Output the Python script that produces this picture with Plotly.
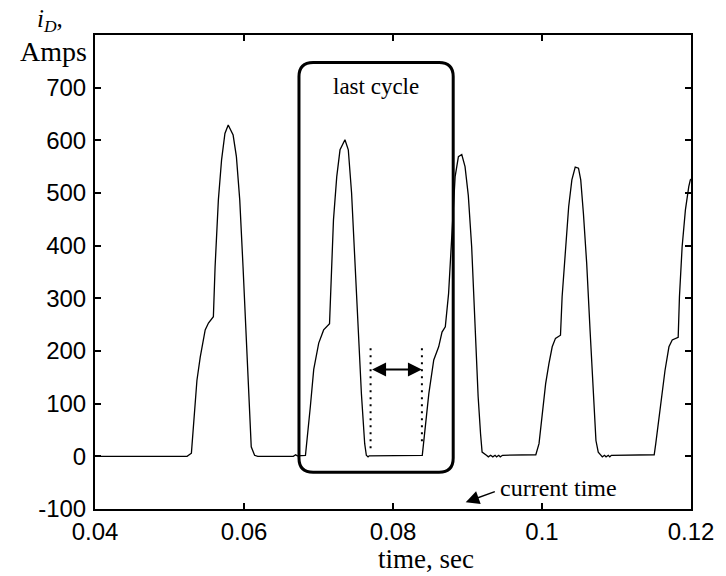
import plotly.graph_objects as go

# Diode current waveform, i_D (A) versus time (s)
time_s = [
    0.04, 0.05236, 0.05294, 0.05368, 0.05413, 0.05479, 0.05523, 0.05589,
    0.05612, 0.05656, 0.05699, 0.05744, 0.05788, 0.05854, 0.05898, 0.05943,
    0.05987, 0.0603, 0.06075, 0.06097, 0.06142, 0.06185, 0.06662, 0.06693,
    0.06715, 0.06795,
    0.06825, 0.06891, 0.06936, 0.07003, 0.07069, 0.07148, 0.07162, 0.07201,
    0.07245, 0.07289, 0.07355, 0.074, 0.07444, 0.07487, 0.07532, 0.07576,
    0.0762, 0.07642, 0.07665, 0.0768, 0.08393,
    0.08437, 0.08481, 0.08547, 0.08613, 0.08658, 0.08702, 0.08746, 0.08791,
    0.08834, 0.08878, 0.08923, 0.08967, 0.09011, 0.09056, 0.09099, 0.09143,
    0.09175, 0.09196, 0.09254, 0.0928, 0.0931, 0.0934, 0.0937, 0.0939,
    0.0942, 0.0944, 0.0947, 0.09917,
    0.0996, 0.10004, 0.10049, 0.10093, 0.10137, 0.10181, 0.10248, 0.1027,
    0.10314, 0.10358, 0.10401, 0.10446, 0.1049, 0.1052, 0.10556, 0.106,
    0.10645, 0.10689, 0.10724, 0.10755, 0.10799, 0.1081, 0.1084, 0.1086,
    0.1089, 0.1091, 0.1093, 0.11506,
    0.11527, 0.11572, 0.11607, 0.11651, 0.11704, 0.11748, 0.11828, 0.11845,
    0.11881, 0.11925, 0.1197, 0.11991, 0.12023, 0.1204,
]
current_a = [
    0, 0, 6, 144, 189, 240, 253, 265,
    360, 487, 563, 613, 629, 610, 569, 487,
    360, 233, 106, 18, 2, 0, 0, 3,
    1, 1,
    2, 95, 165, 215, 240, 252, 300, 449,
    531, 582, 601, 582, 500, 373, 246, 119,
    24, 2, -1, 1, 2,
    56, 119, 183, 208, 236, 246, 309, 436,
    531, 569, 573, 550, 495, 398, 240, 113,
    43, 8, 2, -1, 2, -1, 2, -1,
    2, -1, 2, 3,
    24, 87, 138, 176, 208, 224, 230, 303,
    398, 474, 525, 549, 547, 525, 461, 366,
    240, 113, 30, 8, 2, -1, 2, -1,
    2, -1, 2, 3,
    24, 75, 113, 163, 208, 221, 226, 303,
    398, 468, 512, 525, 528, 520,
]

x_tick_vals = [0.04, 0.06, 0.08, 0.1, 0.12]
x_tick_text = ["0.04", "0.06", "0.08", "0.1", "0.12"]
y_tick_vals = [-100, 0, 100, 200, 300, 400, 500, 600, 700]
y_tick_text = ["-100", "0", "100", "200", "300", "400", "500", "600", "700"]

SERIF = "Liberation Serif, Times New Roman, serif"
SANS = "Liberation Sans, Arial, sans-serif"

fig = go.Figure()
fig.add_trace(go.Scatter(
    x=time_s, y=current_a, mode="lines",
    line=dict(color="black", width=1.3),
    hoverinfo="skip", showlegend=False,
))


def rounded_rect(x0, x1, y0, y1, rx, ry):
    return (
        f"M {x0 + rx},{y0} L {x1 - rx},{y0} Q {x1},{y0} {x1},{y0 + ry} "
        f"L {x1},{y1 - ry} Q {x1},{y1} {x1 - rx},{y1} "
        f"L {x0 + rx},{y1} Q {x0},{y1} {x0},{y1 - ry} "
        f"L {x0},{y0 + ry} Q {x0},{y0} {x0 + rx},{y0} Z"
    )


shapes = [
    # box around the last cycle
    dict(type="path", xref="x", yref="y",
         path=rounded_rect(0.06738, 0.08808, -30, 748, 0.0019, 27),
         line=dict(color="black", width=3)),
    # dotted markers for the off interval
    dict(type="line", xref="x", yref="y", x0=0.07699, x1=0.07699, y0=205, y1=6,
         line=dict(color="black", width=2, dash="2px,5px")),
    dict(type="line", xref="x", yref="y", x0=0.08388, x1=0.08388, y0=205, y1=28,
         line=dict(color="black", width=2, dash="2px,5px")),
]

annotations = [
    dict(text="last cycle", x=0.07775, y=703, xref="x", yref="y",
         showarrow=False, font=dict(family=SERIF, size=23, color="black")),
    # double-headed arrow spanning the off interval
    dict(text="", x=0.08388, y=165, ax=0.07699, ay=165, xref="x", yref="y",
         axref="x", ayref="y", showarrow=True, arrowside="end+start",
         arrowhead=2, startarrowhead=2, arrowsize=1.4, startarrowsize=1.4,
         arrowwidth=2, arrowcolor="black"),
    # current time pointer
    dict(text="", x=0.08976, y=-87, ax=0.09387, ay=-66, xref="x", yref="y",
         axref="x", ayref="y", showarrow=True, arrowhead=2, arrowsize=1.8,
         arrowwidth=1.5, arrowcolor="black"),
    dict(text="current time", x=0.09405, y=-61, xref="x", yref="y",
         xanchor="left", yanchor="middle", showarrow=False,
         font=dict(family=SERIF, size=24, color="black")),
    # axis labels
    dict(text="<i>i</i><sub><i>D</i></sub>,", x=-0.076, y=1.03,
         xref="paper", yref="paper", xanchor="center", yanchor="middle",
         showarrow=False, font=dict(family=SERIF, size=25, color="black")),
    dict(text="Amps", x=-0.01, y=0.966, xref="paper", yref="paper",
         xanchor="right", yanchor="middle", showarrow=False,
         font=dict(family=SERIF, size=28, color="black")),
    dict(text="time, sec", x=0.555, y=-0.105, xref="paper", yref="paper",
         xanchor="center", yanchor="middle", showarrow=False,
         font=dict(family=SERIF, size=27, color="black")),
]

axis_common = dict(
    showline=True, linecolor="black", linewidth=2, mirror="ticks",
    ticks="inside", ticklen=6, tickwidth=1.5, tickcolor="black",
    showgrid=False, zeroline=False,
    tickfont=dict(family=SANS, size=24, color="black"),
)

fig.update_layout(
    width=726, height=576,
    margin=dict(l=95, r=27, t=35, b=67),
    paper_bgcolor="white", plot_bgcolor="white",
    shapes=shapes, annotations=annotations,
    xaxis=dict(range=[0.04, 0.12], tickvals=x_tick_vals, ticktext=x_tick_text,
               ticklabelstandoff=0, **axis_common),
    yaxis=dict(range=[-100, 800], tickvals=y_tick_vals, ticktext=y_tick_text,
               ticklabelstandoff=2, **axis_common),
    showlegend=False,
)

fig.write_html("out.html")
